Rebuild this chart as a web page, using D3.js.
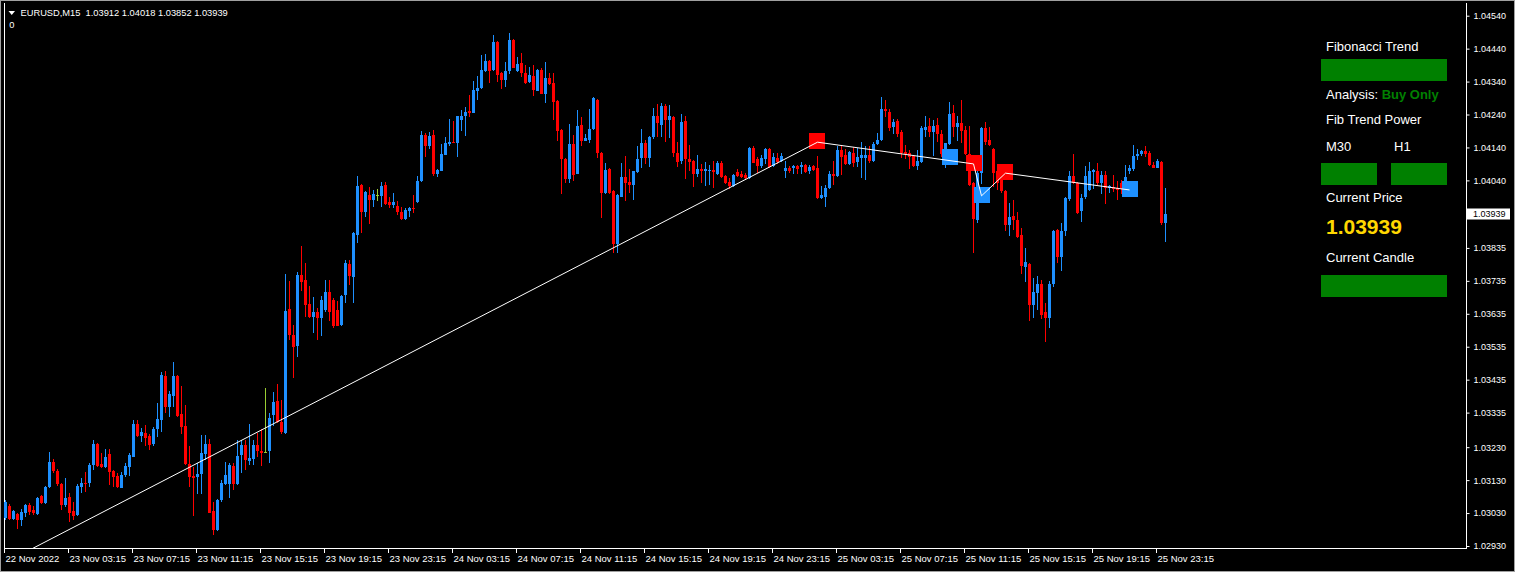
<!DOCTYPE html>
<html><head><meta charset="utf-8">
<script src="https://cdn.jsdelivr.net/npm/d3@7"></script>
<style>html,body{margin:0;padding:0;background:#000;overflow:hidden}</style>
</head><body><svg id="c" width="1515" height="572"></svg>
<script>
const open=[1.03015,1.03052,1.03012,1.03027,1.03009,1.03031,1.03055,1.03040,1.03027,1.03082,
1.03061,1.03109,1.03185,1.03158,1.03119,1.03055,1.03079,1.03037,1.03024,1.03109,
1.03122,1.03122,1.03176,1.03240,1.03179,1.03171,1.03210,1.03158,1.03144,1.03107,
1.03146,1.03171,1.03201,1.03301,1.03264,1.03272,1.03264,1.03239,1.03285,1.03313,
1.03446,1.03353,1.03384,1.03446,1.03331,1.03295,1.03179,1.03144,1.03138,1.03149,
1.03210,1.03240,1.03037,1.02979,1.03070,1.03119,1.03119,1.03173,1.03119,1.03207,
1.03237,1.03189,1.03194,1.03237,1.03219,1.03214,1.03217,1.03328,1.03371,1.03305,
1.03274,1.03649,1.03571,1.03538,1.03753,1.03738,1.03665,1.03626,1.03641,1.03623,
1.03647,1.03702,1.03677,1.03645,1.03600,1.03691,1.03787,1.03748,1.03875,1.04026,
1.03945,1.03996,1.03979,1.03996,1.03994,1.04026,1.03973,1.03966,1.03963,1.03945,
1.03922,1.03948,1.03957,1.03973,1.04039,1.04178,1.04143,1.04178,1.04060,1.04070,
1.04118,1.04151,1.04156,1.04155,1.04224,1.04236,1.04252,1.04246,1.04310,1.04319,
1.04373,1.04401,1.04375,1.04460,1.04367,1.04345,1.04373,1.04467,1.04373,1.04396,
1.04367,1.04340,1.04357,1.04312,1.04375,1.04303,1.04351,1.04337,1.04281,1.04193,
1.04106,1.04045,1.04151,1.04060,1.04209,1.04161,1.04163,1.04196,1.04284,1.04124,
1.04001,1.04074,1.04008,1.03847,1.03991,1.04050,1.04036,1.04026,1.04064,1.04107,
1.04153,1.04107,1.04173,1.04234,1.04209,1.04267,1.04224,1.04232,1.04124,1.04099,
1.04221,1.04105,1.04100,1.04060,1.04075,1.04069,1.04070,1.04072,1.04060,1.04094,
1.04052,1.04036,1.04023,1.04064,1.04059,1.04056,1.04047,1.04138,1.04104,1.04084,
1.04104,1.04135,1.04084,1.04107,1.04099,1.04067,1.04079,1.04079,1.04084,1.04082,
1.04087,1.04070,1.04084,1.04079,1.03986,1.03991,1.04016,1.04060,1.04052,1.04133,
1.04117,1.04090,1.04124,1.04097,1.04109,1.04109,1.04117,1.04099,1.04151,1.04163,
1.04257,1.04248,1.04201,1.04221,1.04188,1.04127,1.04123,1.04114,1.04084,1.04097,
1.04193,1.04205,1.04188,1.04209,1.04180,1.04120,1.04151,1.04244,1.04203,1.04215,
1.04193,1.04120,1.04032,1.03920,1.04062,1.04200,1.04163,1.04136,1.04067,1.04052,
1.04008,1.03905,1.03932,1.03920,1.03875,1.03778,1.03787,1.03662,1.03699,1.03726,
1.03639,1.03623,1.03726,1.03890,1.03806,1.03887,1.03983,1.04054,1.04033,1.03947,
1.03989,1.04011,1.04064,1.04069,1.04033,1.04057,1.04016,1.04019,1.04018,1.04032,
1.04039,1.04067,1.04075,1.04114,1.04120,1.04130,1.04124,1.04087,1.04079,1.04097,1.03912];
const high=[1.03070,1.03058,1.03040,1.03031,1.03043,1.03058,1.03061,1.03052,1.03079,1.03085,
1.03112,1.03216,1.03194,1.03164,1.03122,1.03137,1.03091,1.03064,1.03119,1.03137,
1.03155,1.03182,1.03252,1.03243,1.03212,1.03225,1.03225,1.03161,1.03151,1.03156,
1.03181,1.03212,1.03313,1.03313,1.03288,1.03298,1.03269,1.03290,1.03365,1.03458,
1.03460,1.03401,1.03489,1.03450,1.03416,1.03358,1.03234,1.03171,1.03181,1.03267,
1.03267,1.03255,1.03065,1.03073,1.03131,1.03184,1.03183,1.03183,1.03252,1.03252,
1.03252,1.03301,1.03252,1.03274,1.03285,1.03409,1.03333,1.03399,1.03422,1.03374,
1.03756,1.03735,1.03601,1.03763,1.03841,1.03790,1.03718,1.03685,1.03652,1.03690,
1.03738,1.03738,1.03684,1.03674,1.03693,1.03799,1.03797,1.03883,1.04054,1.04029,
1.04007,1.04019,1.04011,1.04013,1.04035,1.04035,1.03991,1.04002,1.03976,1.03960,
1.03956,1.03959,1.03996,1.04052,1.04190,1.04183,1.04186,1.04193,1.04075,1.04151,
1.04171,1.04227,1.04219,1.04237,1.04254,1.04262,1.04300,1.04342,1.04357,1.04421,
1.04424,1.04406,1.04482,1.04463,1.04370,1.04398,1.04487,1.04470,1.04416,1.04428,
1.04391,1.04384,1.04391,1.04379,1.04382,1.04400,1.04365,1.04365,1.04284,1.04196,
1.04109,1.04212,1.04178,1.04254,1.04232,1.04180,1.04257,1.04294,1.04287,1.04127,
1.04092,1.04079,1.04011,1.03998,1.04092,1.04115,1.04075,1.04069,1.04145,1.04195,
1.04163,1.04175,1.04259,1.04272,1.04274,1.04271,1.04269,1.04234,1.04158,1.04241,
1.04234,1.04148,1.04103,1.04117,1.04090,1.04095,1.04086,1.04099,1.04100,1.04100,
1.04057,1.04047,1.04059,1.04074,1.04069,1.04062,1.04140,1.04143,1.04112,1.04117,
1.04137,1.04137,1.04124,1.04123,1.04123,1.04100,1.04084,1.04086,1.04086,1.04097,
1.04089,1.04087,1.04086,1.04114,1.04023,1.04026,1.04070,1.04100,1.04145,1.04145,
1.04135,1.04130,1.04141,1.04138,1.04158,1.04143,1.04145,1.04158,1.04183,1.04294,
1.04284,1.04257,1.04226,1.04226,1.04193,1.04148,1.04133,1.04117,1.04133,1.04205,
1.04236,1.04229,1.04224,1.04229,1.04193,1.04155,1.04277,1.04269,1.04236,1.04284,
1.04205,1.04205,1.04035,1.04112,1.04203,1.04218,1.04203,1.04139,1.04082,1.04055,
1.04011,1.03971,1.03981,1.03945,1.03895,1.03836,1.03790,1.03745,1.03750,1.03738,
1.03667,1.03735,1.03890,1.03893,1.03910,1.03989,1.04069,1.04120,1.04036,1.03998,
1.04084,1.04096,1.04076,1.04092,1.04070,1.04069,1.04026,1.04057,1.04039,1.04042,
1.04087,1.04087,1.04148,1.04135,1.04133,1.04143,1.04130,1.04097,1.04105,1.04099,1.04018];
const low=[1.03009,1.03009,1.03010,1.02982,1.02991,1.03018,1.03024,1.03024,1.03024,1.03059,
1.03059,1.03106,1.03152,1.03112,1.03040,1.03049,1.03003,1.03009,1.03021,1.03091,
1.03094,1.03109,1.03161,1.03169,1.03166,1.03166,1.03115,1.03110,1.03106,1.03105,
1.03141,1.03143,1.03199,1.03262,1.03247,1.03234,1.03222,1.03234,1.03260,1.03277,
1.03335,1.03323,1.03353,1.03322,1.03270,1.03176,1.03110,1.03021,1.03087,1.03087,
1.03191,1.03029,1.02964,1.02976,1.03065,1.03115,1.03077,1.03100,1.03115,1.03151,
1.03161,1.03176,1.03176,1.03200,1.03173,1.03211,1.03183,1.03293,1.03303,1.03270,
1.03270,1.03556,1.03441,1.03504,1.03705,1.03626,1.03622,1.03578,1.03556,1.03568,
1.03639,1.03613,1.03591,1.03597,1.03597,1.03669,1.03722,1.03669,1.03851,1.03881,
1.03930,1.03908,1.03960,1.03976,1.03959,1.03966,1.03956,1.03956,1.03935,1.03920,
1.03920,1.03930,1.03942,1.03971,1.04036,1.04112,1.04135,1.04052,1.04049,1.04068,
1.04116,1.04143,1.04153,1.04112,1.04191,1.04176,1.04231,1.04244,1.04284,1.04316,
1.04370,1.04337,1.04373,1.04340,1.04317,1.04325,1.04362,1.04380,1.04370,1.04355,
1.04333,1.04335,1.04297,1.04310,1.04301,1.04276,1.04331,1.04222,1.04161,1.03999,
1.04032,1.04032,1.04039,1.04058,1.04143,1.04159,1.04153,1.04193,1.04109,1.03925,
1.03999,1.03999,1.03821,1.03819,1.03989,1.03978,1.04001,1.03979,1.04062,1.04079,
1.04090,1.04080,1.04165,1.04171,1.04173,1.04158,1.04168,1.04112,1.04080,1.04090,
1.04044,1.04070,1.04021,1.04050,1.04033,1.04023,1.04026,1.04018,1.04057,1.04047,
1.04029,1.04013,1.04021,1.04049,1.04047,1.04042,1.04044,1.04092,1.04062,1.04077,
1.04090,1.04078,1.04082,1.04090,1.04097,1.04047,1.04062,1.04060,1.04060,1.04060,
1.04062,1.04060,1.04067,1.03984,1.03984,1.03959,1.04013,1.04026,1.04050,1.04057,
1.04087,1.04087,1.04080,1.04080,1.04047,1.04042,1.04094,1.04097,1.04148,1.04161,
1.04233,1.04191,1.04180,1.04173,1.04107,1.04105,1.04074,1.04080,1.04072,1.04094,
1.04173,1.04173,1.04114,1.04158,1.04112,1.04078,1.04148,1.04173,1.04161,1.04153,
1.04118,1.04024,1.03821,1.03912,1.04029,1.04148,1.04143,1.04021,1.04011,1.04003,
1.03885,1.03872,1.03890,1.03866,1.03756,1.03733,1.03614,1.03623,1.03647,1.03619,
1.03548,1.03593,1.03716,1.03790,1.03765,1.03872,1.03978,1.04029,1.03937,1.03915,
1.03984,1.04009,1.04013,1.04026,1.03998,1.03969,1.04003,1.04006,1.03981,1.03999,
1.04036,1.04060,1.04067,1.04102,1.04115,1.04112,1.04084,1.04077,1.04077,1.03905,1.03852];
const close=[1.03064,1.03012,1.03037,1.03009,1.03034,1.03055,1.03034,1.03031,1.03076,1.03061,
1.03109,1.03185,1.03158,1.03119,1.03055,1.03076,1.03031,1.03022,1.03112,1.03122,
1.03119,1.03176,1.03240,1.03172,1.03171,1.03201,1.03156,1.03141,1.03109,1.03146,
1.03173,1.03205,1.03301,1.03264,1.03276,1.03259,1.03237,1.03286,1.03315,1.03450,
1.03353,1.03392,1.03446,1.03325,1.03290,1.03179,1.03138,1.03135,1.03149,1.03212,
1.03240,1.03031,1.02979,1.03070,1.03121,1.03146,1.03176,1.03119,1.03204,1.03237,
1.03191,1.03198,1.03237,1.03219,1.03212,1.03214,1.03319,1.03368,1.03307,1.03276,
1.03644,1.03571,1.03535,1.03753,1.03733,1.03662,1.03626,1.03641,1.03623,1.03677,
1.03702,1.03639,1.03598,1.03599,1.03690,1.03789,1.03750,1.03880,1.04023,1.03945,
1.04005,1.03981,1.03999,1.03996,1.04023,1.03969,1.03966,1.03973,1.03943,1.03923,
1.03950,1.03957,1.03954,1.04038,1.04178,1.04143,1.04176,1.04060,1.04072,1.04120,
1.04155,1.04158,1.04154,1.04234,1.04236,1.04248,1.04246,1.04315,1.04321,1.04375,
1.04403,1.04373,1.04460,1.04360,1.04345,1.04372,1.04467,1.04382,1.04394,1.04365,
1.04335,1.04359,1.04313,1.04375,1.04303,1.04351,1.04333,1.04279,1.04190,1.04106,
1.04045,1.04151,1.04056,1.04205,1.04161,1.04170,1.04196,1.04290,1.04124,1.04001,
1.04072,1.04003,1.03847,1.03995,1.04050,1.04032,1.04026,1.04067,1.04104,1.04153,
1.04107,1.04173,1.04236,1.04214,1.04267,1.04224,1.04234,1.04123,1.04097,1.04218,
1.04104,1.04097,1.04059,1.04075,1.04067,1.04074,1.04072,1.04064,1.04094,1.04049,
1.04033,1.04023,1.04057,1.04054,1.04050,1.04047,1.04138,1.04094,1.04084,1.04107,
1.04135,1.04080,1.04112,1.04097,1.04114,1.04079,1.04069,1.04084,1.04074,1.04087,
1.04064,1.04082,1.04072,1.03986,1.03996,1.04018,1.04060,1.04052,1.04133,1.04112,
1.04090,1.04127,1.04094,1.04112,1.04117,1.04117,1.04099,1.04151,1.04163,1.04257,
1.04252,1.04200,1.04218,1.04180,1.04123,1.04120,1.04112,1.04084,1.04099,1.04200,
1.04203,1.04188,1.04205,1.04180,1.04120,1.04153,1.04242,1.04201,1.04215,1.04191,
1.04120,1.04026,1.03922,1.04062,1.04200,1.04158,1.04148,1.04062,1.04033,1.04008,
1.03905,1.03930,1.03920,1.03869,1.03780,1.03793,1.03662,1.03702,1.03726,1.03632,
1.03623,1.03726,1.03887,1.03806,1.03887,1.03986,1.04054,1.04032,1.03942,1.03988,
1.04054,1.04069,1.04071,1.04033,1.04057,1.04016,1.04023,1.04014,1.04011,1.04017,
1.04050,1.04077,1.04114,1.04120,1.04130,1.04120,1.04087,1.04079,1.04099,1.03910,1.03939];

const timeLabels=["22 Nov 2022","23 Nov 03:15","23 Nov 07:15","23 Nov 11:15","23 Nov 15:15","23 Nov 19:15","23 Nov 23:15","24 Nov 03:15","24 Nov 07:15","24 Nov 11:15","24 Nov 15:15","24 Nov 19:15","24 Nov 23:15","25 Nov 03:15","25 Nov 07:15","25 Nov 11:15","25 Nov 15:15","25 Nov 19:15","25 Nov 23:15"];
const timeLabelBars=[0,16,32,48,64,80,96,112,128,144,160,176,192,208,224,240,256,272,288];
const priceTicks=[1.04540,1.04440,1.04340,1.04240,1.04140,1.04040,1.03835,1.03735,1.03635,1.03535,1.03435,1.03335,1.03230,1.03130,1.03030,1.02930];
const markerBars=[203,236,242,244,250,281];
const markerPrices=[1.04160,1.04111,1.04093,1.03997,1.04066,1.04014];
const markerTypes=["sell","buy","sell","buy","sell","buy"];
const zigzagBars=[0,203,242,244,250,281];
const zigzagPrices=[1.02880,1.04156,1.04090,1.03993,1.04062,1.04011];
const symbol="EURUSD,M15";
const currentPrice=1.03939;
const panelSignal="Buy Only";

const BULL="#1E90FF", BEAR="#FF0000", DOJI="#9ACD32", GREEN="#008000";
const FONT="Arial, 'Liberation Sans', sans-serif";
const svg=d3.select("#c");
svg.append("rect").attr("width",1515).attr("height",572).attr("fill","#000");

const xS=d3.scaleLinear().domain([0,290]).range([5.5,1165.5]);
const xL=d3.scaleLinear().domain([0,290]).range([4,1164]);
const yS=d3.scaleLinear().domain([1.02930,1.04540]).range([546,15.7]);
const bars=d3.range(open.length);
const col=i=>close[i]>open[i]?BULL:(close[i]<open[i]?BEAR:DOJI);

// frame
svg.append("rect").attr("x",0.5).attr("y",0.5).attr("width",1514).attr("height",571)
  .attr("fill","none").attr("stroke","#a0a0a0").attr("stroke-width",1);
const fr=svg.append("g").attr("stroke","#fff").attr("stroke-width",1).attr("shape-rendering","crispEdges");
fr.append("line").attr("x1",4.5).attr("x2",4.5).attr("y1",3).attr("y2",549);
fr.append("line").attr("x1",4).attr("x2",1467).attr("y1",548.5).attr("y2",548.5);
fr.append("line").attr("x1",1466.5).attr("x2",1466.5).attr("y1",3).attr("y2",549);

// candles
const cg=svg.append("g").attr("shape-rendering","crispEdges");
cg.selectAll("rect.wick").data(bars).join("rect").attr("class","wick")
  .attr("x",i=>xS(i)-0.5).attr("width",1)
  .attr("y",i=>Math.round(yS(high[i])))
  .attr("height",i=>Math.max(1,Math.round(yS(low[i]))-Math.round(yS(high[i]))))
  .attr("fill",col);
cg.selectAll("rect.body").data(bars).join("rect").attr("class","body")
  .attr("x",i=>xS(i)-1.5).attr("width",3)
  .attr("y",i=>Math.round(yS(Math.max(open[i],close[i]))))
  .attr("height",i=>Math.max(1,Math.round(yS(Math.min(open[i],close[i])))-Math.round(yS(Math.max(open[i],close[i])))))
  .attr("fill",col);

// markers
svg.append("g").attr("shape-rendering","crispEdges").selectAll("rect").data(markerBars).join("rect")
  .attr("x",(b)=>Math.round(xS(b))-8).attr("y",(b,i)=>Math.round(yS(markerPrices[i]))-8)
  .attr("width",16).attr("height",16)
  .attr("fill",(b,i)=>markerTypes[i]==="buy"?BULL:BEAR);

// zigzag line
svg.append("clipPath").attr("id","pc").append("rect").attr("x",5).attr("y",3).attr("width",1461).attr("height",545);
svg.append("path").attr("clip-path","url(#pc)")
  .datum(zigzagBars.map((b,i)=>[xS(b),yS(zigzagPrices[i])]))
  .attr("d",d3.line()).attr("fill","none").attr("stroke","#fff").attr("stroke-width",1);

// price axis
const ya=svg.append("g").attr("transform","translate(1466.5,0)")
  .call(d3.axisRight(yS).tickValues(priceTicks).tickFormat(d3.format(".5f")).tickSize(3).tickPadding(4));
ya.select(".domain").remove();
ya.selectAll("line").attr("stroke","#fff");
ya.selectAll("text").attr("fill","#fff").attr("font-family",FONT).attr("font-size","9px");

// current price label
const cy=yS(currentPrice);
svg.append("rect").attr("x",1467).attr("y",Math.round(cy)-5.5).attr("width",43).attr("height",11).attr("fill","#fff");
svg.append("text").attr("x",1473).attr("y",cy).attr("dy","0.34em").attr("fill","#000")
  .attr("font-family",FONT).attr("font-size","9px").text(d3.format(".5f")(currentPrice));

// time axis
const xa=svg.append("g").attr("transform","translate(0,548.5)")
  .call(d3.axisBottom(xL).tickValues(timeLabelBars).tickFormat((d,i)=>timeLabels[i]).tickSize(4).tickPadding(3));
xa.select(".domain").remove();
xa.selectAll("line").attr("stroke","#fff").attr("shape-rendering","crispEdges");
xa.selectAll("text").attr("fill","#fff").attr("font-family",FONT).attr("font-size","9.5px").attr("text-anchor","start").attr("x",1);

// header
svg.append("path").attr("d","M8.5,11 L15,11 L11.75,15 Z").attr("fill","#fff");
svg.append("text").attr("x",20.5).attr("y",16).attr("fill","#fff").attr("font-family",FONT).attr("font-size","9.3px")
  .style("white-space","pre")
  .text(symbol+"  "+[open[290],high[290],low[290],close[290]].map(d3.format(".5f")).join(" "));
svg.append("text").attr("x",9.3).attr("y",28.3).attr("fill","#fff").attr("font-family",FONT).attr("font-size","9.3px").text("0");

// panel
const pn=svg.append("g").attr("font-family",FONT).attr("font-size","13px").attr("fill","#fff");
pn.append("text").attr("x",1326).attr("y",50.5).text("Fibonacci Trend");
pn.append("rect").attr("x",1321).attr("y",59).attr("width",126).attr("height",22).attr("fill",GREEN);
const an=pn.append("text").attr("x",1326).attr("y",98.5).style("white-space","pre");
an.append("tspan").text("Analysis: ");
an.append("tspan").attr("fill",GREEN).attr("font-weight","bold").text(panelSignal);
pn.append("text").attr("x",1326).attr("y",124).text("Fib Trend Power");
pn.append("text").attr("x",1326).attr("y",150.5).text("M30");
pn.append("text").attr("x",1394).attr("y",150.5).text("H1");
pn.append("rect").attr("x",1321).attr("y",163).attr("width",56).attr("height",22).attr("fill",GREEN);
pn.append("rect").attr("x",1391).attr("y",163).attr("width",56).attr("height",22).attr("fill",GREEN);
pn.append("text").attr("x",1326).attr("y",202).text("Current Price");
pn.append("text").attr("x",1326).attr("y",234.3).attr("fill","#FFD700").attr("font-weight","bold").attr("font-size","21px").text(d3.format(".5f")(currentPrice));
pn.append("text").attr("x",1326).attr("y",262).text("Current Candle");
pn.append("rect").attr("x",1321).attr("y",275).attr("width",126).attr("height",22).attr("fill",GREEN);
</script></body></html>
